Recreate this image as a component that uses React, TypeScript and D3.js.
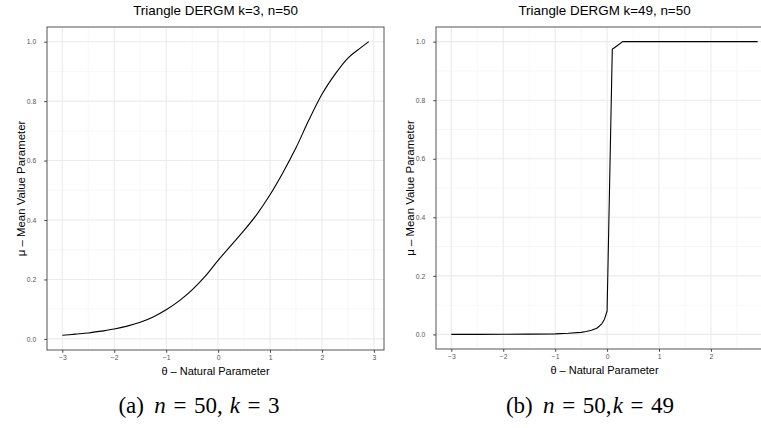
import * as d3 from 'd3';
import { useEffect, useRef } from 'react';

// left panel: k=3
const thetaK3 = [-3, -2.75, -2.5, -2.25, -2, -1.75, -1.5, -1.25, -1, -0.75, -0.5, -0.25, 0, 0.25, 0.5, 0.75, 1, 1.25, 1.5, 1.75, 2, 2.25, 2.5, 2.75, 2.9];
const muK3 = [0.012, 0.016, 0.02, 0.026, 0.033, 0.043, 0.056, 0.074, 0.098, 0.128, 0.165, 0.21, 0.264, 0.315, 0.365, 0.42, 0.485, 0.56, 0.643, 0.737, 0.823, 0.89, 0.945, 0.98, 1.0];

// right panel: k=49
const thetaK49 = [-3, -2.5, -2, -1.5, -1, -0.75, -0.5, -0.4, -0.3, -0.2, -0.15, -0.1, -0.05, 0, 0.1, 0.2, 0.3, 0.5, 1, 1.5, 2, 2.5, 2.9];
const muK49 = [0.0002, 0.0003, 0.0005, 0.001, 0.002, 0.004, 0.007, 0.01, 0.014, 0.021, 0.028, 0.037, 0.052, 0.08, 0.974, 0.987, 1.0, 1.0, 1.0, 1.0, 1.0, 1.0, 1.0];

const xTicks = [-3, -2, -1, 0, 1, 2, 3];
const yTicks = [0, 0.2, 0.4, 0.6, 0.8, 1.0];

const titles = ['Triangle DERGM k=3, n=50', 'Triangle DERGM k=49, n=50'];
const xLabel = 'θ – Natural Parameter';
const yLabel = 'μ – Mean Value Parameter';
const captions = [
  { tag: '(a)', n: '50,', k: '3', commaGap: 0.3 },
  { tag: '(b)', n: '50,', k: '49', commaGap: 0.05 },
];

const SANS = '"Liberation Sans", Arial, Helvetica, sans-serif';
const SERIF = '"Liberation Serif", "Times New Roman", serif';
const PAGE_W = 761;

const expand = (ext) => {
  const pad = (ext[1] - ext[0]) * 0.05;
  return [ext[0] - pad, ext[1] + pad];
};

function drawPanel(svg, { theta, mu, left, width, top, height, title, caption, capX, curve }) {
  const data = theta.map((t, i) => ({ t, m: mu[i] }));
  const x = d3.scaleLinear().domain(expand(d3.extent(theta))).range([left, left + width]);
  const y = d3.scaleLinear().domain(expand(d3.extent(mu))).range([top + height, top]);

  const [x0, x1] = x.domain();
  const [y0, y1] = y.domain();
  const xMaj = xTicks.filter(v => v >= x0 && v <= x1);
  const yMaj = yTicks.filter(v => v >= y0 && v <= y1);
  const xMin = xMaj.slice(1).map((v, i) => (v + xMaj[i]) / 2);
  const yMin = yMaj.slice(1).map((v, i) => (v + yMaj[i]) / 2);
  // labels past the page edge are cropped away in the original
  const xShown = xMaj.filter(v => x(v) < PAGE_W - 4);

  const g = svg.append('g');
  g.append('rect')
    .attr('x', left).attr('y', top).attr('width', width).attr('height', height)
    .attr('fill', '#fff');

  // grid
  g.selectAll('.xmin').data(xMin).enter().append('line')
    .attr('x1', d => x(d)).attr('x2', d => x(d)).attr('y1', top).attr('y2', top + height)
    .attr('stroke', '#f3f3f3').attr('stroke-width', 0.7);
  g.selectAll('.ymin').data(yMin).enter().append('line')
    .attr('y1', d => y(d)).attr('y2', d => y(d)).attr('x1', left).attr('x2', left + width)
    .attr('stroke', '#f3f3f3').attr('stroke-width', 0.7);
  g.selectAll('.xmaj').data(xMaj).enter().append('line')
    .attr('x1', d => x(d)).attr('x2', d => x(d)).attr('y1', top).attr('y2', top + height)
    .attr('stroke', '#ebebeb').attr('stroke-width', 1.1);
  g.selectAll('.ymaj').data(yMaj).enter().append('line')
    .attr('y1', d => y(d)).attr('y2', d => y(d)).attr('x1', left).attr('x2', left + width)
    .attr('stroke', '#ebebeb').attr('stroke-width', 1.1);

  // curve
  const line = d3.line().x(d => x(d.t)).y(d => y(d.m)).curve(curve);
  g.append('path')
    .datum(data)
    .attr('fill', 'none')
    .attr('stroke', '#000')
    .attr('stroke-width', 1.1)
    .attr('stroke-linejoin', 'round')
    .attr('d', line);

  // border
  g.append('rect')
    .attr('x', left).attr('y', top).attr('width', width).attr('height', height)
    .attr('fill', 'none').attr('stroke', '#555').attr('stroke-width', 1);

  // axes
  const xAxis = g.append('g')
    .attr('transform', `translate(0,${top + height})`)
    .call(d3.axisBottom(x).tickValues(xShown).tickSize(2.75).tickPadding(2).tickFormat(d3.format('d')));
  const yAxis = g.append('g')
    .attr('transform', `translate(${left},0)`)
    .call(d3.axisLeft(y).tickValues(yMaj).tickSize(2.75).tickPadding(8).tickFormat(d3.format('.1f')));
  [xAxis, yAxis].forEach(a => {
    a.select('.domain').remove();
    a.selectAll('line').attr('stroke', '#444');
    a.selectAll('text')
      .attr('fill', '#555')
      .style('font-family', SANS)
      .style('font-size', '6.8px');
  });

  // title and axis labels
  g.append('text')
    .attr('x', left + width / 2).attr('y', top - 12)
    .attr('text-anchor', 'middle')
    .attr('font-family', SANS).attr('font-size', 13.4)
    .attr('fill', '#000')
    .text(title);
  const xlX = Math.min(left + width / 2, (left + PAGE_W) / 2 + 20);
  g.append('text')
    .attr('x', left + width / 2 > PAGE_W ? xlX : left + width / 2).attr('y', top + height + 25)
    .attr('text-anchor', 'middle')
    .attr('font-family', SANS).attr('font-size', 11)
    .attr('fill', '#000')
    .text(xLabel);
  g.append('text')
    .attr('transform', `translate(${left - 22},${top + height / 2}) rotate(-90)`)
    .attr('text-anchor', 'middle')
    .attr('font-family', SANS).attr('font-size', 11.4)
    .attr('fill', '#000')
    .text(yLabel);

  // caption, spaced like LaTeX math
  const cap = svg.append('text')
    .attr('x', capX).attr('y', 413)
    .attr('text-anchor', 'middle')
    .attr('font-family', SERIF).attr('font-size', 23)
    .attr('fill', '#000');
  cap.append('tspan').text(caption.tag);
  cap.append('tspan').attr('dx', '0.45em').attr('font-style', 'italic').text('n');
  cap.append('tspan').attr('dx', '0.33em').text('=');
  cap.append('tspan').attr('dx', '0.33em').text(caption.n);
  cap.append('tspan').attr('dx', `${caption.commaGap}em`).attr('font-style', 'italic').text('k');
  cap.append('tspan').attr('dx', '0.33em').text('=');
  cap.append('tspan').attr('dx', '0.33em').text(caption.k);
}

const App = () => {
  const ref = useRef(null);

  useEffect(() => {
    const svg = d3.select(ref.current);
    svg.selectAll('*').remove();
    svg.append('rect').attr('width', 761).attr('height', 428).attr('fill', '#fff');

    drawPanel(svg, {
      theta: thetaK3, mu: muK3, left: 47, width: 337, top: 27, height: 323,
      title: titles[0], caption: captions[0], capX: 199, curve: d3.curveMonotoneX,
    });
    drawPanel(svg, {
      theta: thetaK49, mu: muK49, left: 436, width: 337, top: 27, height: 322,
      title: titles[1], caption: captions[1], capX: 590, curve: d3.curveLinear,
    });
  }, []);

  return (
    <svg
      ref={ref}
      width={761}
      height={428}
      style={{ position: 'absolute', left: 0, top: 0, display: 'block' }}
    />
  );
};

export default App;
